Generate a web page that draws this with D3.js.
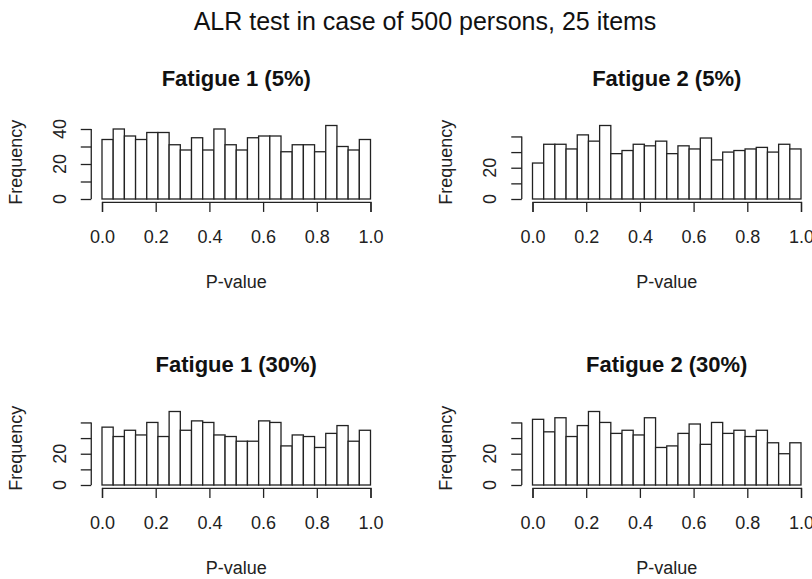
<!DOCTYPE html>
<html>
<head>
<meta charset="utf-8">
<script src="https://cdnjs.cloudflare.com/ajax/libs/d3/7.8.5/d3.min.js"></script>
<style>
  body { margin: 0; background: #fff; }
  svg { display: block; font-family: "Liberation Sans", Arial, sans-serif; }
</style>
</head>
<body>
<div id="chart"></div>
<script>
// Tytuły i dane (liczebności w 24 przedziałach na [0, 1])
const mainTitle = "ALR test in case of 500 persons, 25 items";
const panelTitles = ["Fatigue 1 (5%)", "Fatigue 2 (5%)", "Fatigue 1 (30%)", "Fatigue 2 (30%)"];
const fatigue1_5 = [34, 40, 36, 34, 38, 38, 31, 28, 35, 28, 40, 31, 28, 35, 36, 36, 27, 31, 31, 27, 42, 30, 28, 34];
const fatigue2_5 = [23, 35, 35, 32, 41, 37, 47, 29, 31, 35, 34, 37, 29, 34, 32, 39, 25, 30, 31, 32, 33, 30, 35, 32];
const fatigue1_30 = [37, 31, 35, 32, 40, 31, 47, 35, 41, 40, 32, 31, 28, 28, 41, 40, 25, 32, 31, 24, 33, 38, 28, 35];
const fatigue2_30 = [42, 34, 43, 31, 38, 47, 40, 33, 35, 32, 43, 24, 25, 33, 39, 26, 40, 33, 35, 31, 35, 27, 20, 27];
const xTicks = [0, 0.2, 0.4, 0.6, 0.8, 1.0];
const yTicks = [0, 10, 20, 30, 40];
const yLabelSets = [[0, 20, 40], [0, 20], [0, 20], [0, 20]];
const xLabel = "P-value";
const yLabel = "Frequency";

const series = [fatigue1_5, fatigue2_5, fatigue1_30, fatigue2_30];

// Rozmiar obszaru roboczego
const width = 812, height = 579;
const colLeft = [102, 532.5], plotW = 268.5;
const rowBase = [199, 485], barSpan = 73.5;
const ink = "#222";

const svg = d3.select("#chart").append("svg")
  .attr("width", width)
  .attr("height", height);

svg.append("text")
  .attr("x", 425).attr("y", 21).attr("dy", "0.35em")
  .attr("text-anchor", "middle")
  .style("font-size", "25px")
  .style("fill", "#111")
  .text(mainTitle);

series.forEach((counts, i) => {
  const left = colLeft[i % 2], base = rowBase[Math.floor(i / 2)];
  const n = counts.length;
  const bins = counts.map((c, k) => ({ x0: k / n, x1: (k + 1) / n, count: c }));

  const x = d3.scaleLinear().domain([0, 1]).range([left, left + plotW]);
  const y = d3.scaleLinear().domain([0, d3.max(counts)]).range([base, base - barSpan]);

  // jak w R: obszar wykresu poszerzony o 4% z każdej strony
  const padX = plotW * 0.04, padY = barSpan * 0.04;
  const axisY = base + padY, axisX = left - padX;

  const g = svg.append("g");

  g.selectAll("rect")
    .data(bins)
    .enter()
    .append("rect")
    .attr("x", (d) => x(d.x0))
    .attr("y", (d) => y(d.count))
    .attr("width", (d) => x(d.x1) - x(d.x0))
    .attr("height", (d) => y(0) - y(d.count))
    .style("fill", "#fff")
    .style("stroke", ink)
    .style("stroke-width", 1.3);

  // oś X
  const xAxis = d3.axisBottom(x).tickValues(xTicks).tickSize(10).tickPadding(0)
    .tickFormat(d3.format(".1f"));
  const gx = g.append("g").attr("transform", `translate(0,${axisY})`).call(xAxis);
  gx.select(".domain").attr("stroke", ink).attr("stroke-width", 1.3);
  gx.selectAll(".tick line").attr("stroke", ink).attr("stroke-width", 1.3);
  gx.selectAll(".tick text")
    .attr("y", 238 - 203).attr("dy", "0.35em")
    .style("font-size", "18px").style("fill", "#222")
    .style("font-family", "Liberation Sans, Arial, sans-serif");

  // oś Y
  const yAxis = d3.axisLeft(y).tickValues(yTicks).tickSize(10.5).tickFormat("");
  const gy = g.append("g").attr("transform", `translate(${axisX},0)`).call(yAxis);
  gy.select(".domain").attr("d", `M0,${y(0)}V${y(40)}`).attr("stroke", ink).attr("stroke-width", 1.3);
  gy.selectAll(".tick line").attr("stroke", ink).attr("stroke-width", 1.3);

  g.selectAll(".ylab")
    .data(yLabelSets[i])
    .enter()
    .append("text")
    .attr("class", "ylab")
    .attr("transform", (d) => `translate(${axisX - 32},${y(d)}) rotate(-90)`)
    .attr("text-anchor", "middle")
    .attr("dy", "0.35em")
    .style("font-size", "18px").style("fill", "#222")
    .text((d) => d);

  const midX = left + plotW / 2;
  const midY = (axisY + (base - barSpan - padY)) / 2;

  g.append("text")
    .attr("x", midX).attr("y", base - 121).attr("dy", "0.35em")
    .attr("text-anchor", "middle")
    .style("font-size", "22px").style("font-weight", "bold").style("fill", "#111")
    .text(panelTitles[i]);

  g.append("text")
    .attr("x", midX).attr("y", base + 83).attr("dy", "0.35em")
    .attr("text-anchor", "middle")
    .style("font-size", "18px").style("fill", "#222")
    .text(xLabel);

  g.append("text")
    .attr("transform", `translate(${axisX - 76},${midY}) rotate(-90)`)
    .attr("text-anchor", "middle")
    .attr("dy", "0.35em")
    .style("font-size", "18px").style("fill", "#222")
    .text(yLabel);
});
</script>
</body>
</html>
